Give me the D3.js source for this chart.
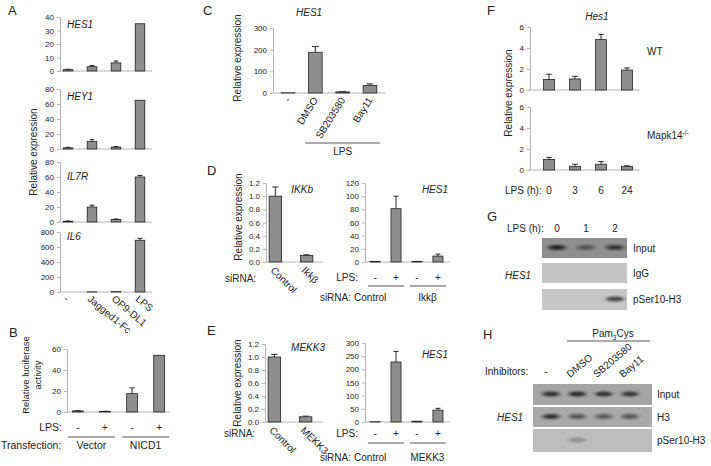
<!DOCTYPE html>
<html><head><meta charset="utf-8">
<script src="https://cdn.jsdelivr.net/npm/d3@7"></script>
<style>
body{margin:0;background:#fff}
svg{display:block;font-family:"Liberation Sans",Arial,sans-serif}
</style></head><body>
<svg id="fig" width="711" height="466"></svg>
<script>
// ── values ──
const aCats = ['-', 'Jagged1-Fc', 'OP9-DL1', 'LPS'];
const aHes1 = [1, 3.2, 6, 35], aHes1Err = [0.3, 0.9, 1.4, 0];
const aHey1 = [1.5, 10, 2.5, 65], aHey1Err = [0.8, 2.5, 0.8, 0];
const aIl7r = [1, 20, 3.5, 60], aIl7rErr = [0.3, 2.5, 0.6, 2];
const aIl6 = [0, 2, 5, 690], aIl6Err = [0, 0, 0, 25];

const bLps = ['-', '+', '-', '+'];
const bGroups = ['Vector', 'NICD1'];
const bLuc = [1, 0.5, 17.5, 54], bLucErr = [0.3, 0.2, 5.5, 0];

const cCats = ['-', 'DMSO', 'SB203580', 'Bay11'];
const cHes1 = [1, 188, 5, 35], cHes1Err = [0, 27, 1, 7];

const dCats = ['Control', 'Ikkβ'];
const dIkkb = [1.0, 0.1], dIkkbErr = [0.14, 0.01];
const dLps = ['-', '+', '-', '+'];
const dHes1 = [1, 81, 1, 9], dHes1Err = [0, 19, 0, 3];

const eCats = ['Control', 'MEKK3'];
const eMekk3 = [1.0, 0.08], eMekk3Err = [0.04, 0.01];
const eHes1 = [1, 228, 3, 45], eHes1Err = [0, 40, 0, 7];

const fTimes = ['0', '3', '6', '24'];
const fWT = [1.0, 1.05, 4.8, 1.9], fWTErr = [0.5, 0.25, 0.5, 0.2];
const fKO = [1.0, 0.35, 0.55, 0.35], fKOErr = [0.2, 0.2, 0.25, 0.05];

const gLanes = ['0', '1', '2'];
const gRows = ['Input', 'IgG', 'pSer10-H3'];
const gBands = [[0.9, 0.5, 0.8], [0, 0, 0], [0, 0, 0.75]];

const hLanes = ['-', 'DMSO', 'SB203580', 'Bay11'];
const hRows = ['Input', 'H3', 'pSer10-H3'];
const hBands = [[0.85, 0.9, 0.85, 0.8], [0.85, 0.6, 0.55, 0.6], [0, 0.3, 0, 0]];

const AX = '#b4b4b4', TXT = '#222', BAR = '#8e8e8e';
const svg = d3.select('#fig');
svg.append('rect').attr('width', 711).attr('height', 466).attr('fill', '#fff');

const defs = svg.append('defs');
defs.append('filter').attr('id', 'blur').attr('x', '-50%').attr('y', '-100%').attr('width', '200%').attr('height', '300%')
  .append('feGaussianBlur').attr('stdDeviation', '2.2 1.3');

function txt(x, y, s, o = {}) {
  const t = svg.append('text').attr('x', x).attr('y', y).attr('fill', TXT)
    .attr('font-size', o.size || 10).attr('text-anchor', o.anchor || 'start').text(s);
  if (o.italic) t.attr('font-style', 'italic');
  if (o.rot != null) t.attr('transform', `rotate(${o.rot},${x},${y})`);
  return t;
}
function hline(x1, x2, y) {
  svg.append('line').attr('x1', x1).attr('x2', x2).attr('y1', y).attr('y2', y).attr('stroke', '#444').attr('stroke-width', 0.9);
}

// generic bar chart with error bars
function barChart(c) {
  const x = d3.scaleBand().domain(d3.range(c.vals.length)).range(c.band).paddingInner(c.pi).paddingOuter(c.po);
  const y = d3.scaleLinear().domain([0, c.max]).range([c.base, c.top]);
  const g = svg.append('g');
  const ax = g.append('g').attr('transform', `translate(${c.axis[0]},0)`)
    .call(d3.axisLeft(y).tickValues(c.ticks).tickSize(3).tickSizeOuter(0).tickPadding(3).tickFormat(c.fmt || d3.format('d')));
  ax.select('.domain').attr('stroke', AX);
  ax.selectAll('.tick line').attr('stroke', AX);
  ax.selectAll('.tick text').attr('fill', TXT).attr('font-size', 8).attr('font-family', 'Liberation Sans');
  g.append('line').attr('x1', c.axis[0]).attr('x2', c.axis[1]).attr('y1', y(0)).attr('y2', y(0)).attr('stroke', AX);

  const data = c.vals.map((v, i) => ({ i, v, e: c.errs ? c.errs[i] : 0 }));
  const ce = x.bandwidth() * 0.25;
  const eb = g.selectAll('g.err').data(data.filter(d => d.e > 0)).join('g');
  eb.append('line').attr('x1', d => x(d.i) + x.bandwidth() / 2).attr('x2', d => x(d.i) + x.bandwidth() / 2)
    .attr('y1', d => y(d.v)).attr('y2', d => y(d.v + d.e)).attr('stroke', '#111').attr('stroke-width', 0.9);
  eb.append('line').attr('x1', d => x(d.i) + x.bandwidth() / 2 - ce).attr('x2', d => x(d.i) + x.bandwidth() / 2 + ce)
    .attr('y1', d => y(d.v + d.e)).attr('y2', d => y(d.v + d.e)).attr('stroke', '#111').attr('stroke-width', 0.9);
  g.selectAll('rect.bar').data(data).join('rect').attr('class', 'bar')
    .attr('x', d => x(d.i)).attr('width', x.bandwidth())
    .attr('y', d => y(d.v)).attr('height', d => y(0) - y(d.v))
    .attr('fill', BAR).attr('stroke', '#222').attr('stroke-width', 0.8);
  return { x, y, cx: i => x(i) + x.bandwidth() / 2, bw: x.bandwidth() };
}

// western blot strips
function blot(c) {
  const x = d3.scalePoint().domain(c.lanes).range(c.lanesX);
  c.rows.forEach((r, ri) => {
    const [y0, y1] = c.rowsY[ri];
    svg.append('rect').attr('x', c.box[0]).attr('y', y0).attr('width', c.box[1] - c.box[0]).attr('height', y1 - y0)
      .attr('fill', c.fills[ri]);
    svg.append('g').attr('filter', 'url(#blur)').selectAll('ellipse').data(c.bands[ri]).join('ellipse')
      .attr('cx', (d, i) => x(c.lanes[i])).attr('cy', (y0 + y1) / 2 - 0.5)
      .attr('rx', c.rx).attr('ry', 2.6).attr('fill', '#1a1a1a').attr('opacity', d => d);
    txt(c.labelX, (y0 + y1) / 2 + 3.5, r);
  });
  return x;
}

// ── panel letters ──
[['A', 8, 15], ['B', 9, 337], ['C', 203, 15], ['D', 207, 175], ['E', 207, 335], ['F', 487, 15], ['G', 487, 221], ['H', 483, 339]]
  .forEach(([s, x, y]) => txt(x, y, s, { size: 13 }));

// ── A ──
const aSpecs = [
  ['HES1', aHes1, aHes1Err, 71, 17, 40, [0, 10, 20, 30, 40], 28],
  ['HEY1', aHey1, aHey1Err, 149, 89, 80, [0, 20, 40, 60, 80], 100],
  ['IL7R', aIl7r, aIl7rErr, 222, 162, 80, [0, 20, 40, 60, 80], 180],
  ['IL6', aIl6, aIl6Err, 292, 232, 800, [0, 200, 400, 600, 800], 240]
];
let aChart;
aSpecs.forEach(([name, vals, errs, base, top, max, ticks, ly]) => {
  aChart = barChart({ vals, errs, base, top, max, ticks, axis: [60, 152], band: [56, 152], pi: 0.6, po: 0.3 });
  txt(67, ly, name, { italic: true });
});
txt(36.5, 152, 'Relative expression', { anchor: 'middle', rot: -90 });
aCats.forEach((s, i) => txt(aChart.cx(i) - 5, 300, s, { rot: 40 }));

// ── B ──
const bChart = barChart({ vals: bLuc, errs: bLucErr, base: 412, top: 349, max: 60, ticks: [0, 20, 40, 60], axis: [67, 170], band: [67, 170], pi: 0.6, po: 0.2 });
txt(28.5, 375, 'Relative luciferase', { size: 9.5, anchor: 'middle', rot: -90 });
txt(40.5, 375, 'activity', { size: 9.5, anchor: 'middle', rot: -90 });
txt(62, 431, 'LPS:', { anchor: 'end', size: 10.5 });
bLps.forEach((s, i) => txt(bChart.cx(i), 431, s, { anchor: 'middle' }));
bGroups.forEach((s, gi) => {
  hline(bChart.cx(gi * 2) - 10, bChart.cx(gi * 2 + 1) + 10, 437);
  txt((bChart.cx(gi * 2) + bChart.cx(gi * 2 + 1)) / 2, 449, s, { anchor: 'middle', size: 10.5 });
});
txt(1, 449, 'Transfection:', { size: 10.5 });

// ── C ──
const cChart = barChart({ vals: cHes1, errs: cHes1Err, base: 93, top: 28, max: 300, ticks: [0, 100, 200, 300], axis: [273, 385], band: [273, 385], pi: 0.5, po: 0.3 });
txt(240.5, 58, 'Relative expression', { anchor: 'middle', rot: -90 });
txt(296, 16, 'HES1', { italic: true });
cCats.forEach((s, i) => txt(cChart.cx(i) + 3, 100, s, { anchor: 'end', rot: -58 }));
hline(cChart.cx(1) - 10, cChart.cx(3) + 10, 143);
txt((cChart.cx(1) + cChart.cx(3)) / 2, 155, 'LPS', { anchor: 'middle' });

// ── D ──
const dL = barChart({ vals: dIkkb, errs: dIkkbErr, base: 262, top: 183, max: 1.2, ticks: d3.range(0, 1.21, 0.2), fmt: d3.format('.1f'), axis: [266, 323], band: [266, 316], pi: 0.6, po: 0.1 });
txt(241.5, 217, 'Relative expression', { anchor: 'middle', rot: -90 });
txt(313, 193, 'IKKb', { italic: true, anchor: 'end' });
dCats.forEach((s, i) => txt(dL.cx(i) - 5.5, 271, s, { rot: 45 }));
txt(225, 282, 'siRNA:');
const dR = barChart({ vals: dHes1, errs: dHes1Err, base: 262, top: 183, max: 120, ticks: [0, 20, 40, 60, 80, 100, 120], axis: [365, 450], band: [365, 448], pi: 0.52, po: 0.24 });
txt(448, 193, 'HES1', { italic: true, anchor: 'end' });
txt(358, 281, 'LPS:', { anchor: 'end' });
dLps.forEach((s, i) => txt(dR.cx(i), 281, s, { anchor: 'middle' }));
dCats.forEach((s, gi) => {
  hline(dR.cx(gi * 2) - 7, dR.cx(gi * 2 + 1) + 8, 286);
  if (gi === 0) txt(dR.cx(0) - 21, 301, s);
  else txt((dR.cx(2) + dR.cx(3)) / 2, 301, s, { anchor: 'middle' });
});
txt(351, 301, 'siRNA:', { anchor: 'end' });

// ── E ──
const eL = barChart({ vals: eMekk3, errs: eMekk3Err, base: 422, top: 344, max: 1.2, ticks: d3.range(0, 1.21, 0.2), fmt: d3.format('.1f'), axis: [265, 323], band: [265, 315], pi: 0.6, po: 0.1 });
txt(240.5, 383, 'Relative expression', { anchor: 'middle', rot: -90 });
txt(325, 351, 'MEKK3', { italic: true, anchor: 'end' });
eCats.forEach((s, i) => txt(eL.cx(i) - 5.5, 431, s, { rot: 45 }));
txt(224, 437, 'siRNA:');
const eR = barChart({ vals: eHes1, errs: eHes1Err, base: 422, top: 343, max: 300, ticks: [0, 50, 100, 150, 200, 250, 300], axis: [365, 450], band: [365, 448], pi: 0.52, po: 0.24 });
txt(448, 358, 'HES1', { italic: true, anchor: 'end' });
txt(358, 437, 'LPS:', { anchor: 'end' });
dLps.forEach((s, i) => txt(eR.cx(i), 437, s, { anchor: 'middle' }));
eCats.forEach((s, gi) => {
  hline(eR.cx(gi * 2) - 7, eR.cx(gi * 2 + 1) + 8, 443);
  if (gi === 0) txt(eR.cx(0) - 21, 461, s);
  else txt((eR.cx(2) + eR.cx(3)) / 2, 461, s, { anchor: 'middle' });
});
txt(351, 461, 'siRNA:', { anchor: 'end' });

// ── F ──
const fTop = barChart({ vals: fWT, errs: fWTErr, base: 90, top: 27, max: 6, ticks: [0, 2, 4, 6], axis: [530, 640], band: [530, 646], pi: 0.58, po: 0.52 });
const fBot = barChart({ vals: fKO, errs: fKOErr, base: 170, top: 107, max: 6, ticks: [0, 2, 4, 6], axis: [530, 640], band: [530, 646], pi: 0.58, po: 0.52 });
txt(511.5, 93, 'Relative expression', { anchor: 'middle', rot: -90 });
txt(597, 20, 'Hes1', { italic: true, anchor: 'middle' });
txt(647, 55, 'WT');
const mk = txt(647, 139, 'Mapk14');
mk.append('tspan').attr('dy', -4).attr('font-size', 6.5).text('-/-');
txt(505, 194, 'LPS (h):');
fTimes.forEach((s, i) => txt(fBot.cx(i), 194, s, { anchor: 'middle' }));

// ── G ──
const gx = blot({ lanes: gLanes, rows: gRows, bands: gBands, lanesX: [557, 615], box: [542, 627],
  rowsY: [[238, 258], [263, 283], [289, 310]], fills: ['#8f8f8f', '#c4c4c4', '#c6c6c6'], rx: 9, labelX: 633 });
txt(507, 232, 'LPS (h):');
gLanes.forEach(s => txt(gx(s), 232, s, { anchor: 'middle' }));
txt(505, 279, 'HES1', { italic: true });

// ── H ──
const hx = blot({ lanes: hLanes, rows: hRows, bands: hBands, lanesX: [551, 630], box: [533, 652],
  rowsY: [[384, 405], [407, 427], [429, 452]], fills: ['#a5a5a5', '#a9a9a9', '#bdbdbd'], rx: 8.5, labelX: 657 });
txt(485, 375, 'Inhibitors:');
hLanes.forEach((s, i) => {
  if (i === 0) txt(hx(s) - 5, 375, s, { anchor: 'middle' });
  else txt(hx(s) - 7, 378, s, { rot: -40 });
});
const pam = txt(613, 337, 'Pam', { anchor: 'middle' });
pam.append('tspan').attr('dy', 2.5).attr('font-size', 6.5).text('3');
pam.append('tspan').attr('dy', -2.5).text('Cys');
hline(567, 650, 341);
txt(497, 421, 'HES1', { italic: true });
</script>
</body></html>
